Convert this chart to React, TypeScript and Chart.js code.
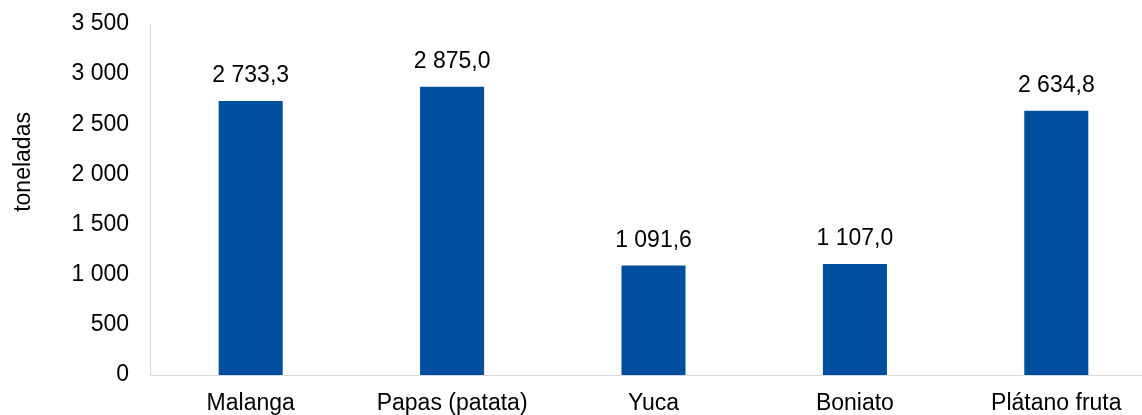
import React, { useEffect, useRef } from "react";
import { Chart, registerables } from "chart.js";

Chart.register(...registerables);

const categories = ["Malanga", "Papas (patata)", "Yuca", "Boniato", "Plátano fruta"];
const values = [2733.3, 2875.0, 1091.6, 1107.0, 2634.8];
const yTicks = [0, 500, 1000, 1500, 2000, 2500, 3000, 3500];
const yTitle = "toneladas";

const FONT = "'Liberation Sans', Arial, sans-serif";
const FS = 23;

function fmtInt(v: number): string {
  return Math.round(v).toString().replace(/\B(?=(\d{3})+(?!\d))/g, " ");
}
function fmtDec(v: number): string {
  const [i, d] = v.toFixed(1).split(".");
  return i.replace(/\B(?=(\d{3})+(?!\d))/g, " ") + "," + d;
}

const labelPlugin = {
  id: "valueLabels",
  afterDatasetsDraw(chart: any) {
    const ctx = chart.ctx;
    const meta = chart.getDatasetMeta(0);
    ctx.save();
    ctx.font = `${FS}px ${FONT}`;
    ctx.fillStyle = "#000";
    ctx.textAlign = "center";
    ctx.textBaseline = "alphabetic";
    meta.data.forEach((bar: any, i: number) => {
      ctx.fillText(fmtDec(values[i]), bar.x, bar.y - 19);
    });
    // y axis title
    const area = chart.chartArea;
    ctx.translate(24, area.top + (area.bottom - area.top) * 0.393);
    ctx.rotate(-Math.PI / 2);
    ctx.textBaseline = "middle";
    ctx.fillText(yTitle, 0, 0);
    ctx.restore();
  },
};

export default function App() {
  const ref = useRef<HTMLCanvasElement>(null);
  useEffect(() => {
    if (!ref.current) return;
    const chart = new Chart(ref.current, {
      type: "bar",
      data: {
        labels: categories,
        datasets: [
          {
            data: values,
            backgroundColor: "#004E9E",
            barPercentage: 0.318,
            categoryPercentage: 1,
          },
        ],
      },
      options: {
        animation: false,
        responsive: false,
        layout: { padding: { top: 24, right: 0, left: 0, bottom: 0 } },
        plugins: { legend: { display: false }, tooltip: { enabled: false } },
        scales: {
          x: {
            grid: { display: false, drawTicks: false },
            border: { display: true, color: "#d9d9d9", width: 1 },
            ticks: { font: { size: FS, family: FONT }, color: "#000", padding: 15, maxRotation: 0 },
            afterFit(scale: any) {
              scale.height = 40;
              scale.paddingLeft = 0;
              scale.paddingRight = 0;
            },
          },
          y: {
            min: 0,
            max: 3500,
            afterBuildTicks(scale: any) {
              scale.ticks = yTicks.map((v) => ({ value: v }));
            },
            grid: { display: false, drawTicks: false },
            border: { display: true, color: "#d9d9d9", width: 1 },
            ticks: {
              font: { size: FS, family: FONT },
              color: "#000",
              padding: 21,
              callback: (v: any) => fmtInt(Number(v)),
            },
            afterFit(scale: any) {
              scale.width = 150;
              scale.paddingTop = 0;
              scale.paddingBottom = 0;
            },
          },
        },
      },
      plugins: [labelPlugin],
    });
    return () => chart.destroy();
  }, []);
  return (
    <div style={{ position: "fixed", left: 0, top: 0, width: 1142, height: 415, overflow: "hidden", background: "#fff" }}>
      <canvas ref={ref} width={1157} height={415} style={{ width: 1157, height: 415, display: "block" }} />
    </div>
  );
}
